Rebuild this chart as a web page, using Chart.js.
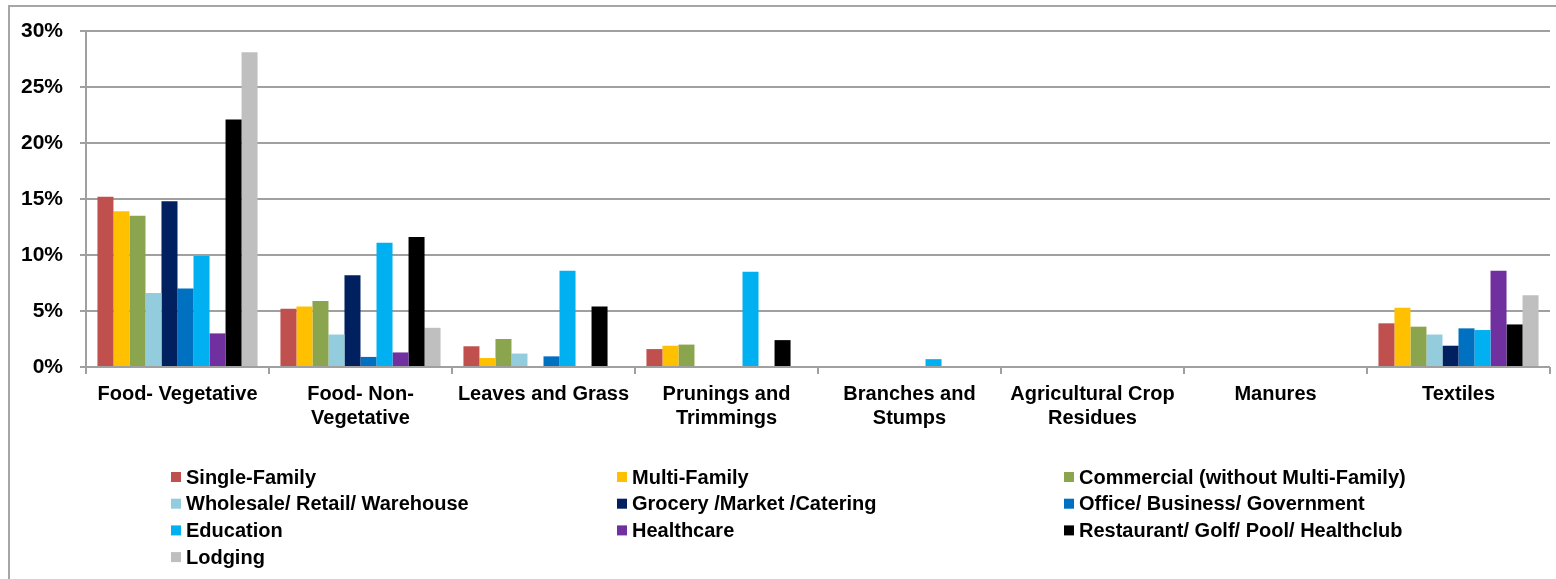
<!DOCTYPE html>
<html lang="en">
<head>
    <meta charset="UTF-8">
    <title>Organics by Generator Type</title>
    <script src="https://cdn.jsdelivr.net/npm/chart.js"></script>
    <style>
        body { margin: 0; background: #ffffff; }
        canvas { display: block; }
    </style>
</head>
<body>
    <canvas id="wasteChart" width="1556" height="579"></canvas>

    <script>
        // categories along the x axis (arrays = two-line labels)
        const categories = [
            'Food- Vegetative',
            ['Food- Non-', 'Vegetative'],
            'Leaves and Grass',
            ['Prunings and', 'Trimmings'],
            ['Branches and', 'Stumps'],
            ['Agricultural Crop', 'Residues'],
            'Manures',
            'Textiles'
        ];

        // percent of stream, one array per generator type
        const singleFamily = [15.2, 5.2, 1.85, 1.6, 0, 0, 0, 3.9];
        const multiFamily  = [13.9, 5.4, 0.8, 1.9, 0, 0, 0, 5.3];
        const commercial   = [13.5, 5.9, 2.5, 2.0, 0, 0, 0, 3.6];
        const wholesale    = [6.6, 2.9, 1.2, 0, 0, 0, 0, 2.9];
        const grocery      = [14.8, 8.2, 0, 0, 0, 0, 0, 1.9];
        const office       = [7.0, 0.9, 0.95, 0, 0, 0, 0, 3.45];
        const education    = [9.9, 11.1, 8.6, 8.5, 0.7, 0, 0, 3.3];
        const healthcare   = [3.0, 1.3, 0, 0, 0, 0, 0, 8.6];
        const restaurant   = [22.1, 11.6, 5.4, 2.4, 0, 0, 0, 3.8];
        const lodging      = [28.1, 3.5, 0, 0, 0, 0, 0, 6.4];

        const yTicks = [0, 5, 10, 15, 20, 25, 30];

        const seriesNames = [
            'Single-Family', 'Multi-Family', 'Commercial (without Multi-Family)',
            'Wholesale/ Retail/ Warehouse', 'Grocery /Market /Catering', 'Office/ Business/ Government',
            'Education', 'Healthcare', 'Restaurant/ Golf/ Pool/ Healthclub',
            'Lodging'
        ];
        const seriesData = [singleFamily, multiFamily, commercial, wholesale, grocery,
                            office, education, healthcare, restaurant, lodging];
        const seriesColors = ['#C0504D', '#FFC000', '#8BA54E', '#93CDDD', '#002060',
                              '#0070C0', '#00B0F0', '#7030A0', '#000000', '#BFBFBF'];

        const FONT = "'Liberation Sans Narrow', 'Liberation Sans', Arial, sans-serif";

        // outer frame: only left and top edges are visible
        const framePlugin = {
            id: 'frame',
            beforeDraw(chart) {
                const c = chart.ctx;
                c.save();
                c.strokeStyle = '#A6A6A6';
                c.lineWidth = 2;
                c.beginPath();
                c.moveTo(9, chart.height);
                c.lineTo(9, 6);
                c.lineTo(chart.width, 6);
                c.stroke();
                c.restore();
            }
        };

        // legend laid out in three fixed columns
        const gridLegend = {
            id: 'gridLegend',
            afterDraw(chart) {
                const c = chart.ctx;
                const cols = [171, 617, 1064];
                const top = 477, rowH = 26.7, box = 10;
                c.save();
                c.font = 'bold 20px ' + FONT;
                c.textBaseline = 'middle';
                c.fillStyle = '#000';
                chart.data.datasets.forEach((ds, i) => {
                    const x = cols[i % 3];
                    const y = top + Math.floor(i / 3) * rowH;
                    c.fillStyle = ds.backgroundColor;
                    c.fillRect(x, y - box / 2, box, box);
                    c.fillStyle = '#000';
                    c.fillText(ds.label, x + 15, y + 1);
                });
                c.restore();
            }
        };

        const ctx = document.getElementById('wasteChart').getContext('2d');
        new Chart(ctx, {
            type: 'bar',
            data: {
                labels: categories,
                datasets: seriesData.map((d, i) => ({
                    label: seriesNames[i],
                    data: d,
                    backgroundColor: seriesColors[i],
                    borderWidth: 0,
                    categoryPercentage: 0.875,
                    barPercentage: 1.0
                }))
            },
            options: {
                responsive: false,
                animation: false,
                layout: { padding: { top: 31, left: 10, right: 6, bottom: 122 } },
                plugins: {
                    legend: { display: false },
                    title: { display: false },
                    tooltip: { enabled: true }
                },
                scales: {
                    x: {
                        grid: { drawOnChartArea: false, drawTicks: true, tickLength: 7, color: '#A0A0A0', lineWidth: 2 },
                        border: { display: false },
                        ticks: {
                            color: '#000',
                            font: { family: FONT, size: 20, weight: 'bold', lineHeight: 1.2 },
                            padding: 8,
                            maxRotation: 0,
                            autoSkip: false
                        },
                        afterFit: s => { s.height = 90; }
                    },
                    y: {
                        min: 0,
                        max: 30,
                        grid: { color: '#A0A0A0', lineWidth: 2, tickLength: 6 },
                        border: { display: true, color: '#A0A0A0', width: 2 },
                        afterBuildTicks: s => { s.ticks = yTicks.map(v => ({ value: v })); },
                        ticks: {
                            color: '#000',
                            font: { family: FONT, size: 21, weight: 'bold' },
                            padding: 17,
                            callback: v => v + '%'
                        },
                        afterFit: s => { s.width = 76; }
                    }
                }
            },
            plugins: [framePlugin, gridLegend]
        });
    </script>
</body>
</html>
